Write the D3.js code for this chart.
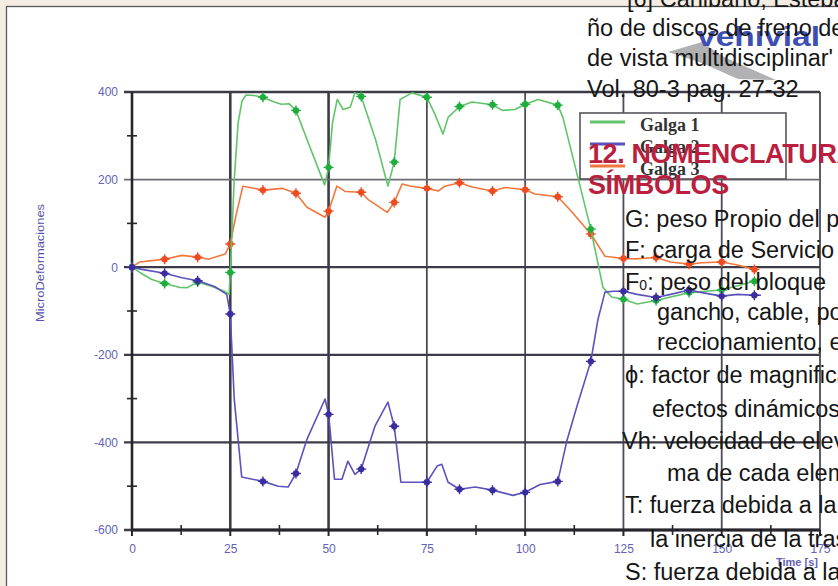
<!DOCTYPE html>
<html>
<head>
<meta charset="utf-8">
<script src="https://cdn.jsdelivr.net/npm/d3@7"></script>
<style>
  html, body { margin: 0; padding: 0; background: #fff; }
  svg { display: block; }
</style>
</head>
<body>
<svg id="chart"></svg>
<script>
// time [s], microdeformaciones, marker flag
const galga1 = [
    [0, 0, 1], [2, -12], [5, -28], [8.3, -37, 1], [12, -46], [14, -47], [16.7, -34, 1],
    [20, -43], [23.5, -55], [24.7, -62], [25, -12, 1], [26, 200], [27, 330], [28, 380],
    [29, 393], [31, 392], [33.3, 388, 1], [36, 378], [38, 372], [40, 373], [41.7, 358, 1],
    [45, 280], [49, 188], [50, 228, 1], [51, 330], [52.2, 383], [53.7, 360], [55.5, 365],
    [56.7, 398], [58.3, 390, 1], [62, 290], [65.1, 185], [66.7, 240, 1], [68.2, 383],
    [71.2, 398], [75, 388, 1], [77, 350], [79.1, 304], [80.4, 342], [83.3, 367, 1],
    [86.5, 377], [91.7, 371, 1], [94.2, 358], [97.4, 360], [100, 372, 1], [103.3, 383],
    [108.3, 370, 1], [109.6, 342], [116.7, 87, 1], [119.8, -46], [122, -68], [125, -73, 1],
    [128.5, -84], [133.3, -76, 1], [141.7, -58, 1], [150, -52, 1], [158.3, -32, 1]
];
const galga2 = [
    [0, 0, 1], [2.5, -5], [8.3, -14, 1], [12.7, -24], [16.7, -31, 1], [21, -44], [24.1, -62],
    [25, -107, 1], [26, -300], [27.9, -479], [33.3, -489, 1], [37.2, -500], [39.7, -502],
    [41.7, -471, 1], [44.5, -393], [49.1, -301], [50, -336, 1], [50.3, -363], [51.5, -484],
    [53.4, -484], [54.9, -443], [56.7, -473], [58.3, -461, 1], [61.8, -363], [65.1, -308],
    [66.7, -363, 1], [68.4, -491], [75, -491, 1], [77.6, -454], [78.8, -450], [80.4, -491],
    [83.3, -507, 1], [87.3, -502], [91.7, -509, 1], [96.9, -521], [100, -514, 1], [103.8, -496],
    [108.3, -489, 1], [110.6, -397], [113.2, -317], [116.7, -215, 1], [118.5, -120],
    [120.3, -57], [122.4, -55], [125, -55, 1], [128.5, -62], [133.3, -69, 1], [137, -62],
    [141.7, -52, 1], [145, -58], [150, -66, 1], [154, -62], [158.3, -64, 1], [160, -64]
];
const galga3 = [
    [0, 0, 1], [2, 12], [5, 15], [8.3, 18, 1], [12.7, 27], [16.7, 23, 1], [19.4, 18], [23.7, 30],
    [25, 53, 1], [26.5, 120], [28.2, 185], [30, 182], [33.3, 176, 1], [38.2, 180], [41.7, 169, 1],
    [44.5, 137], [49.1, 114], [50, 128, 1], [52.1, 185], [54.2, 173], [58.3, 171, 1], [60, 155],
    [64.9, 125], [66.7, 148, 1], [68.7, 190], [71, 185], [75, 180, 1], [77.9, 174], [79.6, 185],
    [83.3, 193, 1], [86.5, 183], [91.7, 174, 1], [94.9, 182], [100, 177, 1], [102.5, 167],
    [108.3, 161, 1], [111.9, 126], [116.7, 76, 1], [120.3, 25], [125, 20, 1], [128, 19],
    [133.3, 22, 1], [137, 12], [141.7, 7, 1], [145, 10], [150, 12, 1], [154, 5], [158.3, -5, 1]
];

const seriesNames = ["Galga 1", "Galga 2", "Galga 3"];
const xTicks = [0, 25, 50, 75, 100, 125, 150, 175];
const xMinorTicks = [12.5, 37.5, 62.5, 87.5, 112.5, 137.5, 162.5];
const yTicks = [-600, -400, -200, 0, 200, 400];
const yMinorTicks = [-500, -300, -100, 100, 300];

// page text laid over the chart (scanned magazine page)
const referenceLines = ["[6] Cañibano, Esteban", "ño de discos de freno de", "de vista multidisciplinar'", "Vol. 80-3 pag. 27-32"];
const headingLines = ["12. NOMENCLATURA Y", "SÍMBOLOS"];
const symbolLines = [
    {t: "G: peso Propio del puente", indent: 0},
    {t: "F: carga de Servicio", indent: 0},
    {t: "F|0|: peso del bloque", indent: 0},
    {t: "gancho, cable, poleas", indent: 1},
    {t: "reccionamiento, etc.", indent: 1},
    {t: "ϕ: factor de magnificación", indent: 0},
    {t: "efectos dinámicos", indent: 2},
    {t: "Vh: velocidad de elevación", indent: 0},
    {t: "ma de cada elemento", indent: 3},
    {t: "T: fuerza debida a la", indent: 0},
    {t: "la inercia de la traslación", indent: 2},
    {t: "S: fuerza debida a la", indent: 0}
];

var width = 838,
    height = 586,
    tickColor = "#6262b8",
    gridColor = "#4c4c58",
    colors = ["#62c46a", "#5a52bd", "#f4763d"],
    markerColors = ["#1fae3e", "#3a2d9f", "#ee4b20"];

var x = d3.scaleLinear().domain([0, 175]).range([132, 820]),
    y = d3.scaleLinear().domain([-600, 400]).range([530, 92]);

var svg = d3.select("#chart")
    .attr("width", width)
    .attr("height", height)
    .style("font-family", "Arial, 'Liberation Sans', sans-serif");

// beige page edge and frame
svg.append("rect").attr("width", width).attr("height", height).attr("fill", "#f4ede3");
svg.append("rect")
    .attr("x", 6.5).attr("y", 6.5)
    .attr("width", width).attr("height", height)
    .attr("fill", "#fff")
    .attr("stroke", "#5a5a5a")
    .attr("stroke-width", 1.3);

var g = svg.append("g");

// grid
g.selectAll(".vgrid").data(xTicks.slice(1)).enter().append("line")
    .attr("x1", d => x(d)).attr("x2", d => x(d))
    .attr("y1", y(400)).attr("y2", y(-600))
    .attr("stroke", (d, i) => i < 2 ? "#3c3c48" : gridColor)
    .attr("stroke-width", (d, i) => i < 2 ? 2.6 : 1.8);

g.selectAll(".hgrid").data(yTicks).enter().append("line")
    .attr("x1", x(0) - 8).attr("x2", x(175))
    .attr("y1", d => y(d)).attr("y2", d => y(d))
    .attr("stroke", d => d === 200 ? "#6a6a74" : "#3c3c48")
    .attr("stroke-width", d => d === 200 ? 1.8 : 2.3);

// axes lines
g.append("line")
    .attr("x1", x(0)).attr("x2", x(0))
    .attr("y1", y(400)).attr("y2", y(-600))
    .attr("stroke", "#26262e").attr("stroke-width", 2.6);
g.append("line")
    .attr("x1", x(0)).attr("x2", x(175))
    .attr("y1", y(-600)).attr("y2", y(-600))
    .attr("stroke", "#26262e").attr("stroke-width", 2.8);

// minor ticks
g.selectAll(".ymin").data(yMinorTicks).enter().append("line")
    .attr("x1", x(0) - 5).attr("x2", x(0) + 5)
    .attr("y1", d => y(d)).attr("y2", d => y(d))
    .attr("stroke", "#26262e").attr("stroke-width", 1.6);
g.selectAll(".xmin").data(xMinorTicks).enter().append("line")
    .attr("x1", d => x(d)).attr("x2", d => x(d))
    .attr("y1", y(-600) - 5).attr("y2", y(-600) + 5)
    .attr("stroke", "#26262e").attr("stroke-width", 1.6);
g.selectAll(".xmaj").data(xTicks).enter().append("line")
    .attr("x1", d => x(d)).attr("x2", d => x(d))
    .attr("y1", y(-600)).attr("y2", y(-600) + 6)
    .attr("stroke", "#26262e").attr("stroke-width", 2);

// tick labels
var yAxis = g.append("g")
    .attr("transform", "translate(" + (x(0) - 12) + ",0)")
    .call(d3.axisLeft(y).tickValues(yTicks).tickSize(0).tickPadding(2));
var xAxis = g.append("g")
    .attr("transform", "translate(0," + (y(-600) + 12) + ")")
    .call(d3.axisBottom(x).tickValues(xTicks).tickSize(0).tickPadding(2));
[yAxis, xAxis].forEach(function (a) {
    a.select(".domain").remove();
    a.selectAll("text")
        .attr("fill", tickColor)
        .style("font-size", "12px")
        .style("font-family", "Arial, 'Liberation Sans', sans-serif");
});
yAxis.selectAll("text").text(d => d < 0 ? "-" + Math.abs(d) : d);

g.append("text")
    .attr("transform", "translate(44,263) rotate(-90)")
    .attr("text-anchor", "middle")
    .attr("fill", "#5252ad")
    .style("font-size", "11.5px")
    .attr("textLength", 118)
    .attr("lengthAdjust", "spacingAndGlyphs")
    .text("MicroDeformaciones");

g.append("text")
    .attr("x", 797).attr("y", 566)
    .attr("text-anchor", "middle")
    .attr("fill", tickColor)
    .style("font-size", "11px")
    .style("font-weight", "bold")
    .text("Time [s]");

// series
var line = d3.line().x(d => x(d[0])).y(d => y(d[1]));
var allSeries = [galga1, galga2, galga3];

[2, 0, 1].forEach(function (i) {
    var data = allSeries[i];
    g.append("path")
        .datum(data)
        .attr("fill", "none")
        .attr("stroke", colors[i])
        .attr("stroke-width", 1.6)
        .attr("stroke-linejoin", "round")
        .attr("d", line);

    var m = g.selectAll(".m" + i)
        .data(data.filter(d => d[2]))
        .enter().append("g")
        .attr("transform", d => "translate(" + x(d[0]) + "," + y(d[1]) + ")");
    m.append("circle").attr("r", 3.2).attr("fill", markerColors[i]);
    m.append("path")
        .attr("d", "M-5,0H5M0,-5V5")
        .attr("stroke", markerColors[i])
        .attr("stroke-width", 1.4);
});

// legend
var legend = g.append("g").attr("transform", "translate(580,113)");
legend.append("rect")
    .attr("width", 206).attr("height", 66)
    .attr("fill", "#fff")
    .attr("stroke", "#55555c")
    .attr("stroke-width", 1.6);
seriesNames.forEach(function (name, i) {
    legend.append("line")
        .attr("x1", 10).attr("x2", 45)
        .attr("y1", 9 + i * 22).attr("y2", 9 + i * 22)
        .attr("stroke", colors[i])
        .attr("stroke-width", 3.2);
    legend.append("text")
        .attr("x", 60).attr("y", 18 + i * 22)
        .attr("fill", "#333")
        .style("font-family", "'Liberation Serif', 'Times New Roman', serif")
        .style("font-weight", "bold")
        .style("font-size", "18px")
        .text(name);
});

// magazine logo behind the page text
var logo = svg.append("g");
logo.append("path")
    .attr("d", "M668,52 L702,42 L722,56 L776,80 L738,79 L702,63 Z")
    .attr("fill", "#a9a9ab")
    .attr("opacity", 0.9);
logo.append("text")
    .attr("x", 697).attr("y", 46)
    .attr("fill", "#3d4fb2")
    .style("font-size", "27px")
    .style("font-weight", "bold")
    .attr("textLength", 123)
    .attr("lengthAdjust", "spacingAndGlyphs")
    .text("vehivial");

// page text overlaid
var page = svg.append("g")
    .style("font-family", "'Liberation Sans', Arial, sans-serif")
    .attr("fill", "#161616");

var refY = [7, 36, 66, 97];
referenceLines.forEach(function (t, i) {
    page.append("text")
        .attr("x", i === 0 ? 627 : 587)
        .attr("y", refY[i])
        .style("font-size", "23.5px")
        .text(t);
});

headingLines.forEach(function (t, i) {
    page.append("text")
        .attr("x", 588)
        .attr("y", 163 + i * 31)
        .attr("fill", "#bb1f40")
        .style("font-size", "27px")
        .style("font-weight", "bold")
        .style("letter-spacing", "-0.4px")
        .text(t);
});

var indents = [625, 657, 652, 667],
    symbolY = [227, 258, 290, 320, 350, 383, 417, 449, 481, 513, 547, 580];
symbolLines.forEach(function (l, i) {
    var tx = page.append("text")
        .attr("x", (l.indent === 0 && i === 7) ? 622 : (i === 10 ? 650 : indents[l.indent]))
        .attr("y", symbolY[i])
        .style("font-size", "23.5px");
    l.t.split("|").forEach(function (part, k) {
        var sp = tx.append("tspan").text(part);
        if (k === 1) sp.style("font-size", "14px");
    });
});
</script>
</body>
</html>
